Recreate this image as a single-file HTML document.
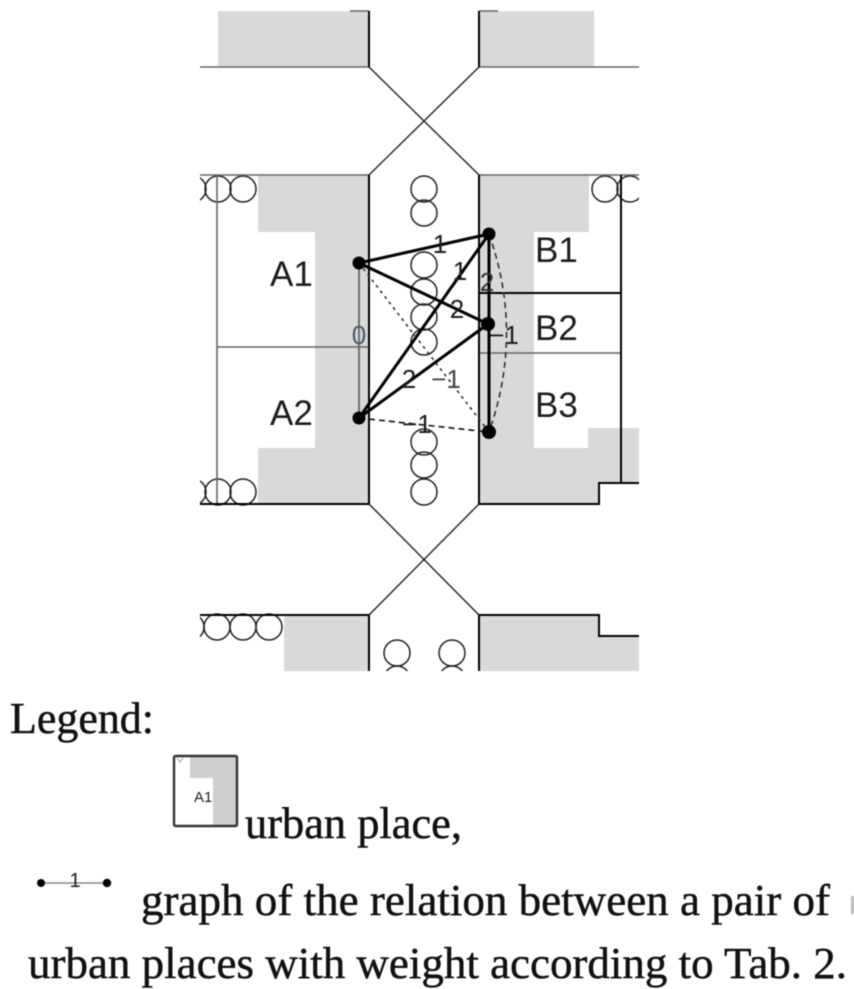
<!DOCTYPE html>
<html>
<head>
<meta charset="utf-8">
<style>
html,body{margin:0;padding:0;background:#fff;}
svg{display:block;filter:blur(0.4px);}
.s{font-family:"Liberation Sans",sans-serif;fill:#1c1c1c;}
.t{font-family:"Liberation Serif",serif;fill:#111;stroke:#111;stroke-width:0.45px;font-size:44px;}
</style>
</head>
<body>
<svg width="854" height="989" viewBox="0 0 854 989" xmlns="http://www.w3.org/2000/svg">
<defs><clipPath id="c"><rect x="200" y="0" width="439" height="671"/></clipPath></defs>
<rect width="854" height="989" fill="#fff"/>
<g clip-path="url(#c)">
<!-- grey areas -->
<g fill="#d9d9d9">
<rect x="218" y="11" width="151" height="56"/>
<rect x="479" y="11" width="115" height="56"/>
<polygon points="258,175 369,175 369,504 258,504 258,448 315,448 315,232 258,232"/>
<polygon points="479,175 589,175 589,232 534,232 534,448 588,448 588,428 639,428 639,483 599,483 599,504 479,504"/>
<rect x="284" y="615" width="85" height="56"/>
<polygon points="479,615 599,615 599,636 639,636 639,671 479,671"/>
</g>
<!-- trees -->
<g fill="none" stroke="#222" stroke-width="1.5">
<circle cx="193" cy="189" r="13"/><circle cx="218" cy="189" r="13"/><circle cx="243" cy="189" r="13"/>
<circle cx="193" cy="492" r="13"/><circle cx="218" cy="492" r="13"/><circle cx="243" cy="492" r="13"/>
<circle cx="605" cy="189" r="13"/><circle cx="630" cy="189" r="13"/>
<circle cx="424" cy="189" r="13"/><circle cx="424" cy="213" r="13"/>
<circle cx="424" cy="265" r="13"/><circle cx="424" cy="292" r="13"/><circle cx="424" cy="317" r="13"/><circle cx="424" cy="342" r="13"/>
<circle cx="424" cy="442" r="13"/><circle cx="424" cy="465" r="13"/><circle cx="424" cy="492" r="13"/>
<circle cx="191" cy="627" r="13"/><circle cx="217" cy="627" r="13"/><circle cx="243" cy="627" r="13"/><circle cx="269" cy="627" r="13"/>
<circle cx="397" cy="653" r="13"/><circle cx="452" cy="653" r="13"/>
<circle cx="397" cy="679" r="13"/><circle cx="452" cy="679" r="13"/>
</g>
<!-- street lines -->
<g fill="none" stroke="#666" stroke-width="1.6">
<path d="M200 67H369M479 67H639M350 11H369M479 11H498"/>
<path d="M217 175V504M217 347H369M479 353H621"/>
<path d="M369 175H200M479 175H639"/>
</g>
<g fill="none" stroke="#222" stroke-width="1.4">
<path d="M369 67L479 175M479 67L369 175M369 504L479 615M479 504L369 615"/>
</g>
<g fill="none" stroke="#000" stroke-width="2">
<path d="M369 11V67M479 11V67M369 175V504M479 175V504H599V483H639"/>
<path d="M200 504H369M621 175V483M479 293H621"/>
<path d="M200 615H369V671M479 671V615H599V636H639"/>
</g>
</g>
<!-- place labels -->
<g class="s" font-size="35">
<text x="270" y="286">A1</text>
<text x="270" y="425">A2</text>
<text x="535" y="262">B1</text>
<text x="535" y="340">B2</text>
<text x="535" y="417">B3</text>
</g>
<!-- edges -->
<g fill="none" stroke="#666" stroke-width="1.8"><path d="M359 263V418"/></g>
<g fill="none" stroke="#000" stroke-width="3">
<path d="M359 263L489 234M359 263L488 324M359 418L489 234M359 418L488 324M489 234V432"/>
</g>
<g fill="none" stroke="#111" stroke-width="1.6" stroke-dasharray="6 4">
<path d="M359 418L489 432"/>
<path d="M489 234Q524 333 489 432" stroke="#333"/>
</g>
<g fill="none" stroke="#222" stroke-width="1.5" stroke-dasharray="3 4">
<path d="M359 263L489 432"/>
</g>
<g fill="#000">
<circle cx="359" cy="263" r="6.5"/><circle cx="359" cy="418" r="6.5"/>
<circle cx="489" cy="234" r="6.5"/><circle cx="488" cy="324" r="7"/><circle cx="489" cy="432" r="7"/>
</g>
<!-- edge weights -->
<g class="s" font-size="26" text-anchor="middle">
<text x="359" y="344" fill="#4a5a6a">0</text>
<text x="440" y="253">1</text>
<text x="460" y="280">1</text>
<text x="457" y="318">2</text>
<text x="487" y="291" fill="#333">2</text>
<text x="409" y="388">2</text>
<text x="504" y="344">−1</text>
<text x="446" y="388" fill="#444">−1</text>
<text x="417" y="433">−1</text>
</g>
<!-- legend -->
<text class="t" x="10" y="733" textLength="144" lengthAdjust="spacingAndGlyphs">Legend:</text>
<polygon points="190,757 236,757 236,825 213,825 213,778 190,778" fill="#cfcfcf"/>
<rect x="174" y="756" width="63" height="70" rx="1.5" fill="none" stroke="#333" stroke-width="2.4"/>
<path d="M177 758l3 4 3-4" fill="none" stroke="#999" stroke-width="1"/>
<text class="s" x="194" y="802" font-size="15" fill="#444">A1</text>
<text class="t" x="245" y="838" textLength="217" lengthAdjust="spacingAndGlyphs">urban place,</text>
<path d="M41 883H107" stroke="#888" stroke-width="1.4"/>
<circle cx="41" cy="883" r="4" fill="#000"/><circle cx="107" cy="883" r="4.2" fill="#000"/>
<text class="s" x="75" y="887" font-size="20" fill="#555" text-anchor="middle">1</text>
<text class="t" x="141" y="915" textLength="689" lengthAdjust="spacingAndGlyphs">graph of the relation between a pair of</text>
<rect x="851" y="896" width="3" height="18" fill="#bbb"/>
<text class="t" x="28" y="978" textLength="819" lengthAdjust="spacingAndGlyphs">urban places with weight according to Tab. 2.</text>
</svg>
</body>
</html>
